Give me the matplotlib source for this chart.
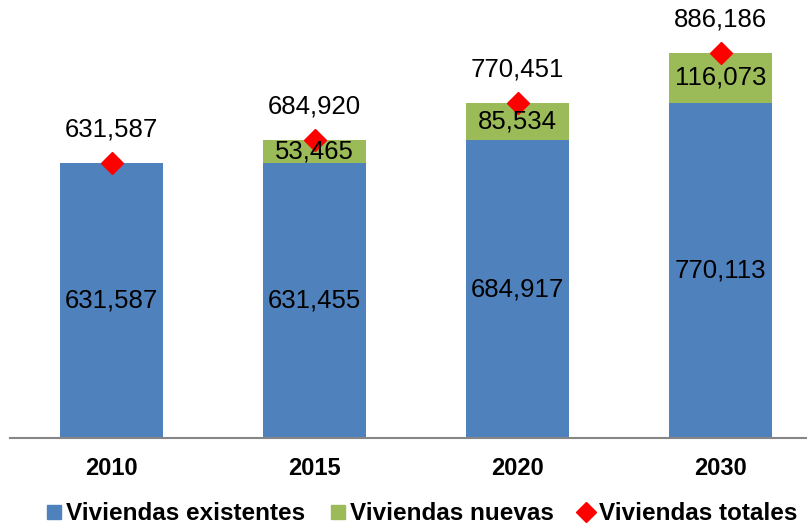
import matplotlib
matplotlib.use("Agg")
import matplotlib.pyplot as plt
from matplotlib.lines import Line2D
import numpy as np

plt.rcParams['font.family'] = ['Liberation Sans', 'DejaVu Sans']

years = ['2010', '2015', '2020', '2030']
existentes = [631587, 631455, 684917, 770113]
nuevas = [0, 53465, 85534, 116073]
totales = [631587, 684920, 770451, 886186]

W, H = 807, 529
fig = plt.figure(figsize=(W / 100, H / 100), dpi=100)
ax = fig.add_axes([10 / W, (H - 438) / H, 797 / W, 435 / H])

x = np.arange(len(years))
bw = 103 / 203
blue = '#4F81BD'
green = '#9BBB59'
ax.bar(x, existentes, width=bw, color=blue, zorder=2)
ax.bar(x, nuevas, width=bw, bottom=existentes, color=green, zorder=2)
ax.plot(x, totales, linestyle='none', marker='D', color='#FF0000', ms=11, zorder=4)

for i in range(len(years)):
    ax.text(x[i], existentes[i] / 2, f'{existentes[i]:,}', ha='center', va='center',
            fontsize=18.5, zorder=5)
    if nuevas[i] > 0:
        ax.text(x[i], existentes[i] + nuevas[i] / 2, f'{nuevas[i]:,}', ha='center',
                va='center', fontsize=18.5, zorder=5)
    ax.annotate(f'{totales[i]:,}', (x[i], totales[i]), xytext=(0, 24),
                textcoords='offset points', ha='center', va='center', fontsize=18.5,
                zorder=5)

ax.set_xlim(-0.5, -0.5 + 797 / 203)
ax.set_ylim(0, 1000000)
ax.set_yticks([])
ax.set_xticks(x)
ax.set_xticklabels(years, fontsize=17, fontweight='bold')
ax.tick_params(axis='x', length=0, pad=14)
for s in ['top', 'right', 'left']:
    ax.spines[s].set_visible(False)
ax.spines['bottom'].set_color('#868686')
ax.spines['bottom'].set_linewidth(1.5)

handles = [
    Line2D([], [], linestyle='none', marker='s', color=blue, ms=10),
    Line2D([], [], linestyle='none', marker='s', color=green, ms=10),
    Line2D([], [], linestyle='none', marker='D', color='#FF0000', ms=10),
]
labels = ['Viviendas existentes', 'Viviendas nuevas', 'Viviendas totales']
fig.legend(handles, labels, loc='center', bbox_to_anchor=(421 / W, (H - 514) / H),
           ncol=3, frameon=False, prop={'weight': 'bold', 'size': 17.5},
           handletextpad=0.15, columnspacing=1.0, handlelength=0.7)

fig.savefig('out.png', dpi=100)
